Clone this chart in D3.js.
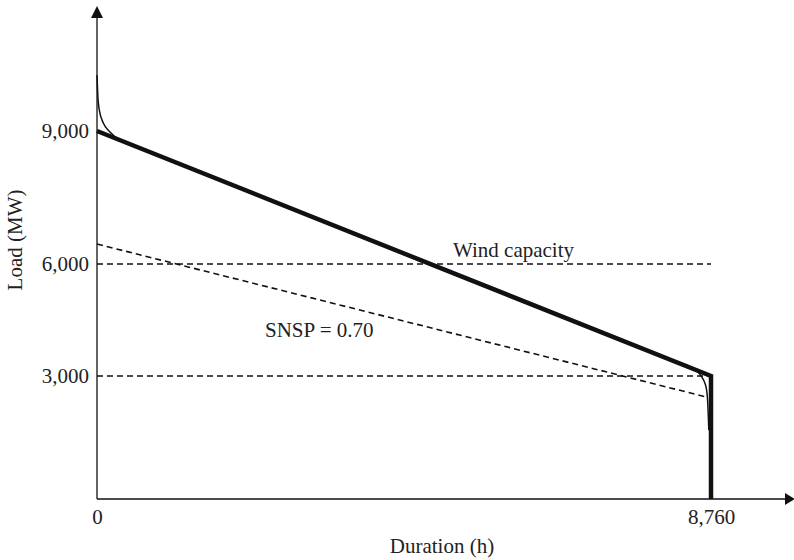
<!DOCTYPE html>
<html>
<head>
<meta charset="utf-8">
<script src="https://cdn.jsdelivr.net/npm/d3@7/dist/d3.min.js"></script>
<style>
  html, body { margin: 0; padding: 0; background: #fff; }
  svg text { font-family: "Liberation Serif", "Times New Roman", serif; fill: #222; }
</style>
</head>
<body>
<svg id="chart" width="794" height="560"></svg>
<script>
// ---- data ----
const xTicks = [0, 8760];
const yTicks = [3000, 6000, 9000];
const xTickLabels = ["0", "8,760"];
const yTickLabels = ["3,000", "6,000", "9,000"];

// linear approximation of load duration curve (thick)
const approxHours = [0, 8760, 8760];
const approxLoad = [9000, 3000, 0];

// actual load duration curve (thin)
const curveHours = [0, 10, 33, 90, 185, 328, 400, 2000, 4775, 7800, 8300, 8460, 8556, 8626, 8673, 8697, 8711, 8720, 8729];
const curveLoad = [10260, 9850, 9470, 9180, 8977, 8794, 8749, 7744, 6000, 3742, 3370, 3250, 3142, 2983, 2822, 2659, 2415, 2090, 1680];

// wind capacity and reference levels (dashed)
const windHours = [0, 8760];
const windLoad = [6000, 6000];
const minHours = [0, 8760];
const minLoad = [3000, 3000];
const snspHours = [0, 8690];
const snspLoad = [6450, 2490];

const annotations = ["Wind capacity", "SNSP = 0.70"];

// ---- scales ----
const svg = d3.select("#chart");
const x = d3.scaleLinear().domain([0, 8760]).range([97, 711]);
const y = d3.scaleLinear().domain([0, 3000, 6000, 9000]).range([499, 376, 264, 131]);

const toPts = (hs, vs) => hs.map((h, i) => [h, vs[i]]);
const line = d3.line().x(d => x(d[0])).y(d => y(d[1]));
const smooth = d3.line().x(d => x(d[0])).y(d => y(d[1])).curve(d3.curveMonotoneX);

// ---- axes (arrows) ----
const ink = "#111";
svg.append("line").attr("x1", x(0)).attr("x2", x(0)).attr("y1", y(0)).attr("y2", 16)
  .attr("stroke", ink).attr("stroke-width", 1.3);
svg.append("path").attr("d", `M${x(0)},6 L${x(0) - 6},18 L${x(0) + 6},18 Z`).attr("fill", ink);
svg.append("line").attr("x1", x(0)).attr("x2", 785).attr("y1", y(0)).attr("y2", y(0))
  .attr("stroke", ink).attr("stroke-width", 1.3);
svg.append("path").attr("d", `M795,${y(0)} L785,${y(0) - 6} L785,${y(0) + 6} Z`).attr("fill", ink);

const yAxis = d3.axisLeft(y).tickValues(yTicks).tickSize(0).tickPadding(8)
  .tickFormat((d, i) => yTickLabels[i]);
const gy = svg.append("g").attr("transform", `translate(${x(0)},0)`).call(yAxis);
gy.select(".domain").remove();
gy.selectAll("text").attr("font-size", 21).attr("font-family", "Liberation Serif").attr("fill", "#222");

const xAxis = d3.axisBottom(x).tickValues(xTicks).tickSize(0).tickPadding(10)
  .tickFormat((d, i) => xTickLabels[i]);
const gx = svg.append("g").attr("transform", `translate(0,${y(0)})`).call(xAxis);
gx.select(".domain").remove();
gx.selectAll("text").attr("font-size", 21).attr("font-family", "Liberation Serif").attr("fill", "#222");

// ---- dashed lines ----
[[windHours, windLoad], [minHours, minLoad], [snspHours, snspLoad]].forEach(([h, v]) => {
  svg.append("path").attr("d", line(toPts(h, v))).attr("fill", "none")
    .attr("stroke", ink).attr("stroke-width", 1.6).attr("stroke-dasharray", "6,4");
});

// ---- thin actual curve ----
svg.append("path").attr("d", smooth(toPts(curveHours, curveLoad))).attr("fill", "none")
  .attr("stroke", ink).attr("stroke-width", 1.5);

// ---- thick approximation ----
svg.append("path").attr("d", line(toPts(approxHours, approxLoad))).attr("fill", "none")
  .attr("stroke", ink).attr("stroke-width", 4.5).attr("stroke-linejoin", "miter");

// ---- annotations ----
svg.append("text").attr("x", 453).attr("y", 257).attr("font-size", 21).text(annotations[0]);
svg.append("text").attr("x", 265).attr("y", 337).attr("font-size", 21).text(annotations[1]);

// ---- axis titles ----
svg.append("text").attr("x", 442).attr("y", 553).attr("text-anchor", "middle")
  .attr("font-size", 21).text("Duration (h)");
svg.append("text").attr("transform", "translate(22,240) rotate(-90)").attr("text-anchor", "middle")
  .attr("font-size", 21).text("Load (MW)");
</script>
</body>
</html>
